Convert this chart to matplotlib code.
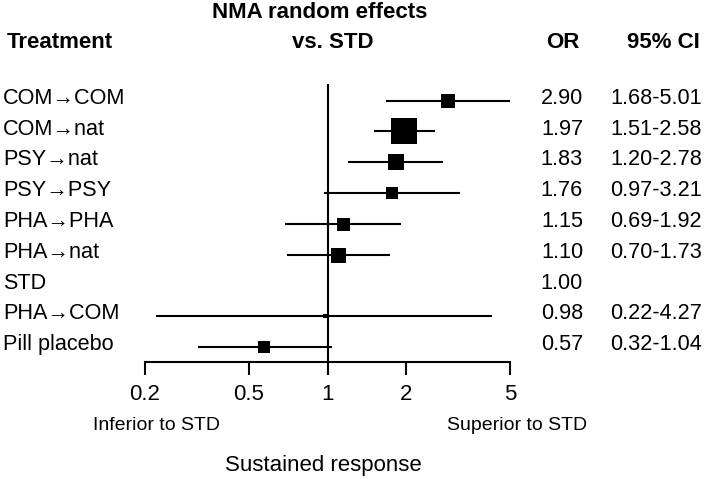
import matplotlib
matplotlib.use('Agg')
import matplotlib.pyplot as plt
import matplotlib.transforms as mtransforms
from matplotlib.ticker import NullLocator, FixedLocator, FixedFormatter

plt.rcParams['font.family'] = ['Liberation Sans', 'DejaVu Sans']

treatments = ['COM\u2192COM', 'COM\u2192nat', 'PSY\u2192nat', 'PSY\u2192PSY',
              'PHA\u2192PHA', 'PHA\u2192nat', 'STD', 'PHA\u2192COM', 'Pill placebo']
odds_ratio = [2.90, 1.97, 1.83, 1.76, 1.15, 1.10, 1.00, 0.98, 0.57]
ci_low = [1.68, 1.51, 1.20, 0.97, 0.69, 0.70, None, 0.22, 0.32]
ci_high = [5.01, 2.58, 2.78, 3.21, 1.92, 1.73, None, 4.27, 1.04]
# relative weight of each estimate (box side in pixels)
box_px = [14, 27, 16, 12, 13, 15, 0, 5, 12]
ticks = [0.2, 0.5, 1, 2, 5]
tick_labels = ['0.2', '0.5', '1', '2', '5']

W, H = 709, 479
fig = plt.figure(figsize=(W / 100, H / 100), dpi=100)

row0, step = 100.5, 30.8
top_px, axis_px = 84, 362
ax = fig.add_axes([145 / W, 1 - axis_px / H, (510 - 145) / W, (axis_px - top_px) / H])
ax.set_xscale('log')
ax.set_xlim(0.2, 5)
ax.set_ylim((axis_px - row0) / step, (top_px - row0) / step)

ax.axvline(1, color='black', lw=1.5, zorder=1)

for i, (orv, lo, hi, s) in enumerate(zip(odds_ratio, ci_low, ci_high, box_px)):
    if lo is None:
        continue
    ax.plot([lo, hi], [i, i], color='black', lw=1.5, solid_capstyle='butt', zorder=2)
    ax.plot(orv, i, marker='s', ms=s * 0.72, color='black', mew=0, zorder=3)

for side in ['top', 'left', 'right']:
    ax.spines[side].set_visible(False)
ax.spines['bottom'].set_linewidth(1.5)
ax.set_yticks([])
ax.xaxis.set_major_locator(FixedLocator(ticks))
ax.xaxis.set_major_formatter(FixedFormatter(tick_labels))
ax.xaxis.set_minor_locator(NullLocator())
ax.tick_params(axis='x', direction='out', length=9.5, width=1.5, pad=6, labelsize=16)

# text columns
blend = mtransforms.blended_transform_factory(fig.transFigure, ax.transData)
fs = 15.6
for i, name in enumerate(treatments):
    ax.text(3 / W, i - 0.07, name, transform=blend, fontsize=fs, ha='left', va='center')
    ax.text(562 / W, i - 0.07, f'{odds_ratio[i]:.2f}', transform=blend, fontsize=fs,
            ha='center', va='center')
    if ci_low[i] is not None:
        ax.text(702 / W, i - 0.07, f'{ci_low[i]:.2f}-{ci_high[i]:.2f}', transform=blend,
                fontsize=fs, ha='right', va='center')

def px(x, y):
    return x / W, 1 - y / H

hfs = 16
fig.text(*px(320, 13), 'NMA random effects', fontsize=hfs, fontweight='bold', ha='center', va='center')
fig.text(*px(333, 43), 'vs. STD', fontsize=hfs, fontweight='bold', ha='center', va='center')
fig.text(*px(7, 43), 'Treatment', fontsize=hfs, fontweight='bold', ha='left', va='center')
fig.text(*px(563, 43), 'OR', fontsize=hfs, fontweight='bold', ha='center', va='center')
fig.text(*px(663, 43), '95% CI', fontsize=hfs, fontweight='bold', ha='center', va='center')

fig.text(*px(220, 425), 'Inferior to STD', fontsize=14, ha='right', va='center')
fig.text(*px(587, 425), 'Superior to STD', fontsize=14, ha='right', va='center')
fig.text(*px(323, 465), 'Sustained response', fontsize=16, ha='center', va='center')

fig.savefig('out.png', dpi=100, facecolor='white')
